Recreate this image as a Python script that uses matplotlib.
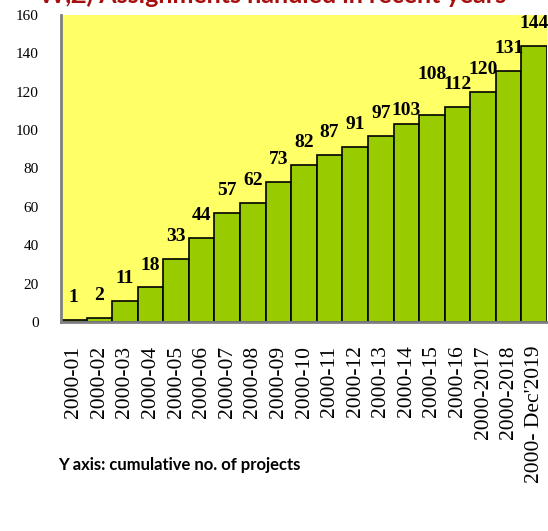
import matplotlib.pyplot as plt
import numpy as np

periods = ['2000-01', '2000-02', '2000-03', '2000-04', '2000-05', '2000-06',
           '2000-07', '2000-08', '2000-09', '2000-10', '2000-11', '2000-12',
           '2000-13', '2000-14', '2000-15', '2000-16', '2000-2017',
           '2000-2018', "2000- Dec'2019"]
projects = [1, 2, 11, 18, 33, 44, 57, 62, 73, 82, 87, 91, 97, 103, 108, 112,
            120, 131, 144]

fig = plt.figure(figsize=(5.48, 5.31), dpi=100)
ax = fig.add_axes([0.1113, 0.3936, 0.887, 0.5782])
ax.set_facecolor('#FFFF66')

x = np.arange(len(projects))
ax.bar(x, projects, width=1.0, color='#99CC00', edgecolor='black', linewidth=1.2)

# value labels, a couple nudged like the original
extra = {13: -6, 14: 13}
for i, v in enumerate(projects):
    ax.annotate(str(v), (i, v), xytext=(0, 10 + extra.get(i, 0)),
                textcoords='offset points', ha='center', va='bottom',
                fontsize=14, fontweight='bold', family='Liberation Serif')

ax.set_xlim(-0.5, len(projects) - 0.5)
ax.set_ylim(0, 160)
ax.set_yticks(range(0, 161, 20))
ax.set_yticklabels([str(t) for t in range(0, 161, 20)],
                   family='Liberation Serif', fontsize=11)
ax.set_xticks(x)
ax.set_xticklabels(periods, rotation=90, family='Liberation Serif', fontsize=15.5)
ax.tick_params(axis='both', length=0)
ax.tick_params(axis='x', pad=17)
ax.tick_params(axis='y', pad=16)

for s in ['top', 'right']:
    ax.spines[s].set_visible(False)
for s in ['left', 'bottom']:
    ax.spines[s].set_color('#808080')
    ax.spines[s].set_linewidth(2)

fig.text(0.497, 1 - 3 / 531, 'W,Z) Assignments handled in recent years',
         ha='center', va='baseline', color='#A50F0F', fontsize=18,
         fontweight='bold', family='Lato')

fig.text(0.106, 1 - 465 / 531, 'Y axis: cumulative no. of projects',
         ha='left', va='center', fontsize=12, fontweight='bold', family='Lato')

fig.savefig('out.png', dpi=100)
